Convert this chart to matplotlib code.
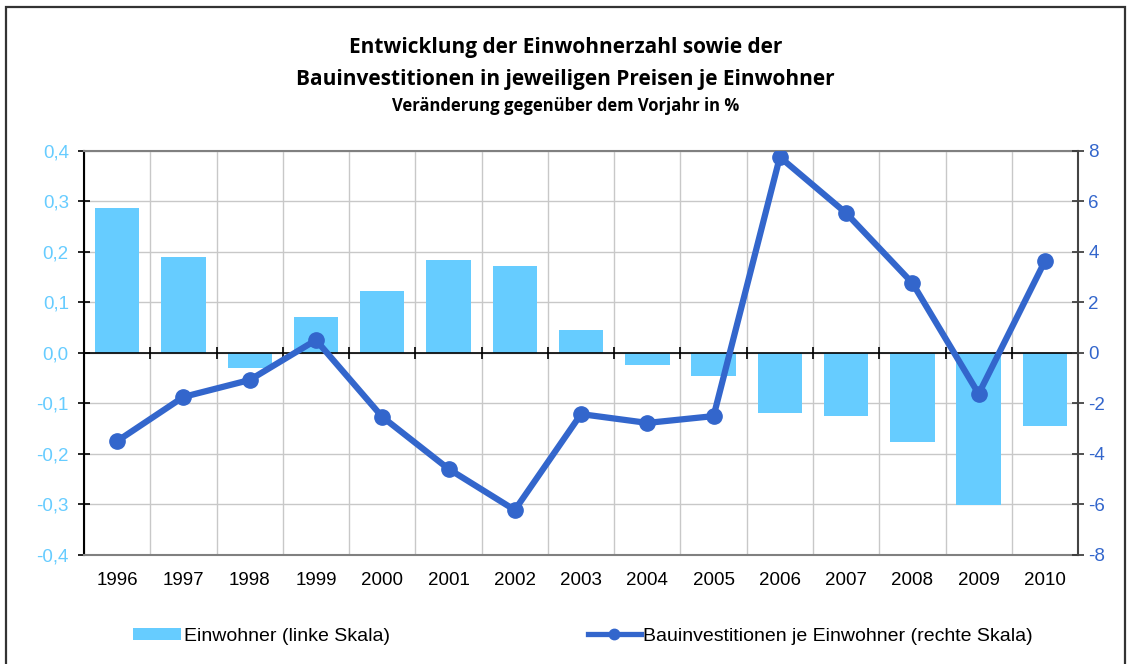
import matplotlib.pyplot as plt
import matplotlib.ticker as mticker
from matplotlib.patches import Rectangle
import numpy as np

years = ['1996', '1997', '1998', '1999', '2000', '2001', '2002', '2003',
         '2004', '2005', '2006', '2007', '2008', '2009', '2010']
einwohner = [0.287, 0.19, -0.03, 0.071, 0.123, 0.184, 0.172, 0.046,
             -0.024, -0.045, -0.119, -0.125, -0.176, -0.301, -0.144]
bauinv = [-3.49, -1.74, -1.07, 0.51, -2.53, -4.59, -6.22, -2.42,
          -2.77, -2.50, 7.76, 5.54, 2.77, -1.62, 3.64]

bar_color = '#66CCFF'
line_color = '#3366CC'
plt.rcParams['font.family'] = ['Liberation Sans', 'DejaVu Sans']

fig = plt.figure(figsize=(11.31, 6.64), dpi=100)
ax = fig.add_axes([0.0743, 0.1642, 0.8789, 0.6084])
ax2 = ax.twinx()

x = np.arange(len(years))
bars = ax.bar(x, einwohner, width=0.67, color=bar_color, zorder=2)
line, = ax2.plot(x, bauinv, color=line_color, lw=4.5, marker='o', ms=11, zorder=3)

ax.set_xlim(-0.5, len(years) - 0.5)
ax.set_ylim(-0.4, 0.4)
ax2.set_ylim(-8, 8)
ax.set_yticks(np.round(np.arange(-0.4, 0.41, 0.1), 1))
ax2.set_yticks(np.arange(-8, 9, 2))


def fmt_left(v, pos):
    v = round(v, 1)
    if v == 0:
        v = 0.0
    return f'{v:.1f}'.replace('.', ',')


ax.yaxis.set_major_formatter(mticker.FuncFormatter(fmt_left))
ax2.yaxis.set_major_formatter(mticker.FuncFormatter(lambda v, p: f'{v:.0f}'))

ax.set_xticks(x)
ax.set_xticklabels(years)
ax.set_xticks(np.arange(-0.5, len(years), 1), minor=True)
ax.tick_params(axis='x', which='both', length=0, labelsize=13.5, pad=12)
ax.tick_params(axis='y', direction='inout', length=8, width=1.2, labelsize=13.5,
               labelcolor=bar_color, color='black', pad=7)
ax2.tick_params(axis='y', direction='inout', length=8, width=1.2, labelsize=13.5,
                labelcolor=line_color, color='#333333')

ax.grid(True, which='minor', axis='x', color='#c8c8c8', lw=1, zorder=0)
ax.grid(True, which='major', axis='y', color='#c8c8c8', lw=1, zorder=0)
ax.set_axisbelow(True)

# zero line with small ticks between categories
ax.axhline(0, color='black', lw=1.2, zorder=2.5)
ax.plot(np.arange(0.5, len(years) - 1, 1), np.zeros(len(years) - 1), '|',
        color='black', ms=9, mew=1.2, zorder=2.5)

ax.spines['left'].set_color('black')
ax.spines['left'].set_linewidth(1.5)
ax2.spines['right'].set_color('#444444')
ax2.spines['right'].set_linewidth(1.5)
for sp in ('top', 'bottom'):
    ax.spines[sp].set_color('#808080')
    ax.spines[sp].set_linewidth(1.5)
    ax2.spines[sp].set_visible(False)
ax2.spines['left'].set_visible(False)
ax.spines['right'].set_visible(False)

fig.text(0.5, 0.928, 'Entwicklung der Einwohnerzahl sowie der', ha='center', va='center',
         fontsize=15, fontweight='bold', family='Open Sans')
fig.text(0.5, 0.880, 'Bauinvestitionen in jeweiligen Preisen je Einwohner', ha='center',
         va='center', fontsize=15, fontweight='bold', family='Open Sans')
fig.text(0.5, 0.840, 'Veränderung gegenüber dem Vorjahr in %', ha='center', va='center',
         fontsize=12, fontweight='bold', family='Open Sans')

fig.legend([bars], ['Einwohner (linke Skala)'], loc='center left',
           bbox_to_anchor=(0.102, 0.042), frameon=False, fontsize=14,
           handlelength=2.47, handleheight=0.6, handletextpad=0.15)
leg_line, = ax2.plot([], [], color=line_color, lw=3.8, marker='o', ms=7.5)
fig.legend([leg_line], ['Bauinvestitionen je Einwohner (rechte Skala)'], loc='center left',
           bbox_to_anchor=(0.5043, 0.042), frameon=False, fontsize=14,
           handlelength=2.73, handletextpad=0.1)

fig.patches.append(Rectangle((0.0055, -0.01), 0.9895, 0.9995, transform=fig.transFigure,
                             fill=False, edgecolor='#333333', lw=1.6))

fig.savefig('out.png', dpi=100)
